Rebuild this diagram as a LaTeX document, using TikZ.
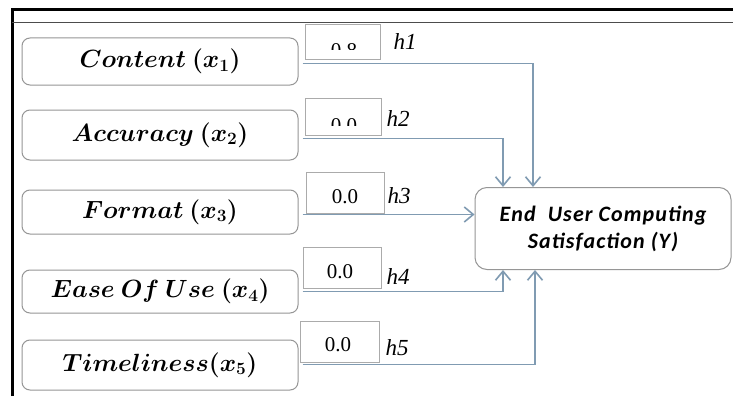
\documentclass[tikz,border=0pt]{standalone}
\usepackage{fontspec}
\setmainfont{Liberation Serif}
\newfontfamily\calib[LetterSpace=5]{Carlito}
\usetikzlibrary{arrows.meta,calc}
\definecolor{linkc}{RGB}{128,155,178}
\definecolor{boxline}{RGB}{150,150,150}
\tikzset{
  inbox/.style={draw=boxline, fill=white, rounded corners=8pt, line width=1pt,
    minimum width=276pt, inner sep=0pt, font=\fontsize{24}{26}\selectfont\boldmath},
  numbox/.style={draw=boxline!80, fill=white, line width=1pt, inner sep=0pt},
  numtxt/.style={inner sep=0pt, font=\fontsize{21}{23}\selectfont},
  hlab/.style={inner sep=0pt, font=\fontsize{23}{25}\selectfont\itshape},
  outbox/.style={draw=boxline, fill=white, rounded corners=12pt, line width=1pt,
    minimum width=256pt, minimum height=82pt, inner sep=0pt, align=center,
    font=\calib\fontsize{22}{27}\selectfont\bfseries\itshape},
  link/.style={draw=linkc, line width=1.6pt},
  arr/.style={-{Straight Barb[length=9pt,width=15pt]}}
}
\begin{document}
\begin{tikzpicture}[x=1pt,y=-1pt]
\useasboundingbox (0,0) rectangle (733,396);
\fill[white] (0,0) rectangle (733,396);

% frame
\draw[line width=3pt] (12,396) -- (12,10) -- (733,10);
\draw[line width=1.8pt, black!70] (12,22.5) -- (733,22.5);

% input variables
\node[inbox, minimum height=47pt] (c1) at (160,61.5) {$Content\ (x_1)$};
\node[inbox, minimum height=50pt] (c2) at (160,135) {$Accuracy\ (x_2)$};
\node[inbox, minimum height=44pt] (c3) at (160,212) {$Format\ (x_3)$};
\node[inbox, minimum height=43pt] (c4) at (160,291.5) {$Ease\ Of\ Use\ (x_4)$};
\node[inbox, minimum height=50pt] (c5) at (160,365) {$Timeliness(x_5)$};

% value boxes
\node[numbox, minimum width=75pt, minimum height=35pt] (n1) at (342.5,42.5) {};
\node[numbox, minimum width=76pt, minimum height=37pt] (n2) at (343,116.5) {};
\node[numbox, minimum width=78pt, minimum height=41pt] (n3) at (345,192.5) {};
\node[numbox, minimum width=78pt, minimum height=41pt] (n4) at (342,267.5) {};
\node[numbox, minimum width=79pt, minimum height=41pt] (n5) at (339.5,341.5) {};

\begin{scope}
  \clip (n1.north west) rectangle (380,50);
  \node[numtxt] (v1) at (344,50.5) {0.8};
\end{scope}
\begin{scope}
  \clip (n2.north west) rectangle (381,125);
  \node[numtxt] (v2) at (344,125.5) {0.0};
\end{scope}
\node[numtxt] (v3) at (345,197) {0.0};
\node[numtxt] (v4) at (340,272) {0.0};
\node[numtxt] (v5) at (338,345) {0.0};

% path labels
\node[hlab] (h1) at (405,42) {h1};
\node[hlab] (h2) at (398,119) {h2};
\node[hlab] (h3) at (399,196) {h3};
\node[hlab] (h4) at (398,277) {h4};
\node[hlab] (h5) at (397,348) {h5};

% dependent variable
\node[outbox] (Y) at (603,228.5) {End\ \ User Computing\\Satisfaction (Y)};

% connectors
\coordinate (s1) at ([shift={(-2,3)}]n1.south west);
\coordinate (s2) at ([shift={(-2,3)}]n2.south west);
\coordinate (s3) at ([shift={(-3,1)}]n3.south west);
\coordinate (s4) at ([shift={(0,3)}]n4.south west);
\coordinate (s5) at ([shift={(3,2)}]n5.south west);
\draw[link,arr] (s1) -| ([xshift=-70pt]Y.north);
\draw[link,arr] (s2) -| ([xshift=-100pt]Y.north);
\draw[link,arr] (s3) -- (s3 -| Y.west);
\draw[link,arr] (s4) -| ([xshift=-100pt]Y.south);
\draw[link,arr] (s5) -| ([xshift=-68pt]Y.south);
\end{tikzpicture}
\end{document}
